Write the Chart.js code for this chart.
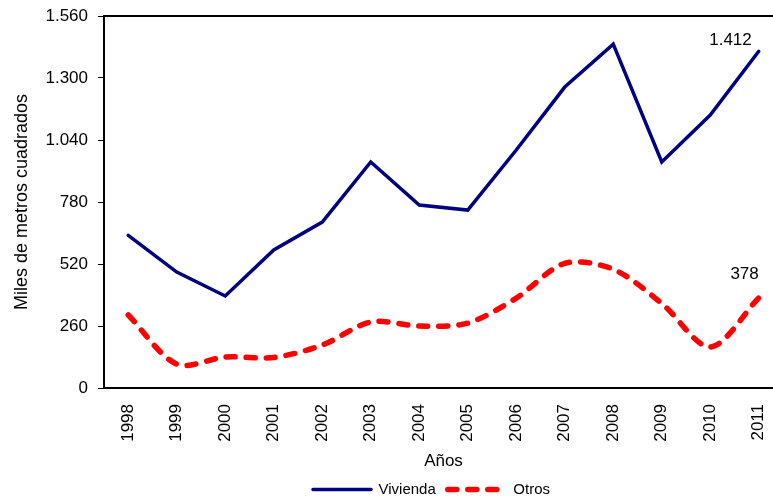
<!DOCTYPE html>
<html><head><meta charset="utf-8">
<script src="https://cdn.jsdelivr.net/npm/chart.js@4.4.1/dist/chart.umd.min.js"></script>
<style>html,body{margin:0;padding:0;overflow:hidden;background:#fff}</style>
</head><body>
<canvas id="c" width="790" height="497"></canvas>
<script>
const years = ['1998','1999','2000','2001','2002','2003','2004','2005','2006','2007','2008','2009','2010','2011'];
const vivienda = [640,486,386,579,696,948,767,746,998,1262,1442,948,1145,1412];
const otros = [306,100,130,128,180,277,260,272,377,523,498,355,172,378];
const yTicks = [0,260,520,780,1040,1300,1560];
const seriesNames = ['Vivienda','Otros'];
const xTitle = 'Años';
const yTitle = 'Miles de metros cuadrados';

const FONT = "'Liberation Sans', Arial, sans-serif";
const fmt = v => String(Math.round(v)).replace(/\B(?=(\d{3})+(?!\d))/g, '.');

const frame = {
  id: 'frame',
  afterLayout(chart) {
    if (chart.legend) { chart.legend.left += 80; }
  },
  afterDatasetsDraw(chart) {
    const {ctx, chartArea: a} = chart;
    ctx.save();
    ctx.strokeStyle = '#000';
    ctx.lineWidth = 2;
    ctx.beginPath();
    ctx.moveTo(a.left, a.top);
    ctx.lineTo(a.right, a.top);
    ctx.lineTo(a.right, a.bottom);
    ctx.stroke();
    ctx.restore();
  }
};
const endLabels = {
  id: 'endLabels',
  afterDatasetsDraw(chart) {
    const ctx = chart.ctx;
    ctx.save();
    ctx.font = '17px ' + FONT;
    ctx.fillStyle = '#000';
    ctx.textAlign = 'right';
    ctx.textBaseline = 'middle';
    const offs = [[-7,-11],[0,-24]];
    chart.data.datasets.forEach((ds, i) => {
      const meta = chart.getDatasetMeta(i);
      const n = ds.data.length - 1;
      const p = meta.data[n];
      ctx.fillText(fmt(ds.data[n]), p.x + offs[i][0], p.y + offs[i][1]);
    });
    ctx.restore();
  }
};

new Chart(document.getElementById('c'), {
  type: 'line',
  data: {
    labels: years,
    datasets: [
      {label: seriesNames[0], data: vivienda, borderColor: '#000080', backgroundColor: '#000080',
       borderWidth: 3.5, pointRadius: 0, tension: 0, borderCapStyle: 'round', borderJoinStyle: 'miter'},
      {label: seriesNames[1], data: otros, borderColor: '#ff0000', backgroundColor: '#ff0000',
       borderWidth: 5.5, pointRadius: 0, tension: 0.3, borderDash: [9, 11], borderCapStyle: 'round'}
    ]
  },
  options: {
    responsive: false,
    animation: false,
    layout: {padding: {left: 0, right: 7, top: 16, bottom: -10}},
    plugins: {
      tooltip: {enabled: false},
      legend: {
        position: 'bottom',
        labels: {
          usePointStyle: true, pointStyle: 'line', pointStyleWidth: 58,
          color: '#000', font: {family: FONT, size: 15}, padding: 12,
          generateLabels(chart) {
            const items = Chart.defaults.plugins.legend.labels.generateLabels(chart);
            items.forEach((it) => {
              const ds = chart.data.datasets[it.datasetIndex];
              it.lineDash = ds.borderDash || [];
              it.lineCap = ds.borderCapStyle || 'butt';
              it.lineWidth = ds.borderWidth;
              it.strokeStyle = ds.borderColor;
            });
            return items;
          }
        }
      }
    },
    scales: {
      x: {
        offset: true,
        grid: {display: false},
        border: {color: '#000', width: 2},
        ticks: {color: '#000', font: {family: FONT, size: 17}, maxRotation: 90, minRotation: 90, padding: 8},
        title: {display: true, text: xTitle, color: '#000', font: {family: FONT, size: 17}, padding: {top: 4, bottom: -2}},
        afterFit(s) { s.height = 82; s.paddingLeft = 0; s.paddingRight = 0; }
      },
      y: {
        min: 0, max: 1560,
        afterBuildTicks(s) { s.ticks = yTicks.map(v => ({value: v})); },
        grid: {drawOnChartArea: false, tickLength: 6, color: '#000', lineWidth: 1},
        border: {color: '#000', width: 2},
        ticks: {color: '#000', font: {family: FONT, size: 17}, padding: 10, callback: v => fmt(v)},
        title: {display: true, text: yTitle, color: '#000', font: {family: FONT, size: 18}, padding: {top: 11, bottom: 4}},
        afterFit(s) { s.width = 104; s.paddingTop = 0; s.paddingBottom = 0; }
      }
    }
  },
  plugins: [frame, endLabels]
});
</script>
</body></html>
